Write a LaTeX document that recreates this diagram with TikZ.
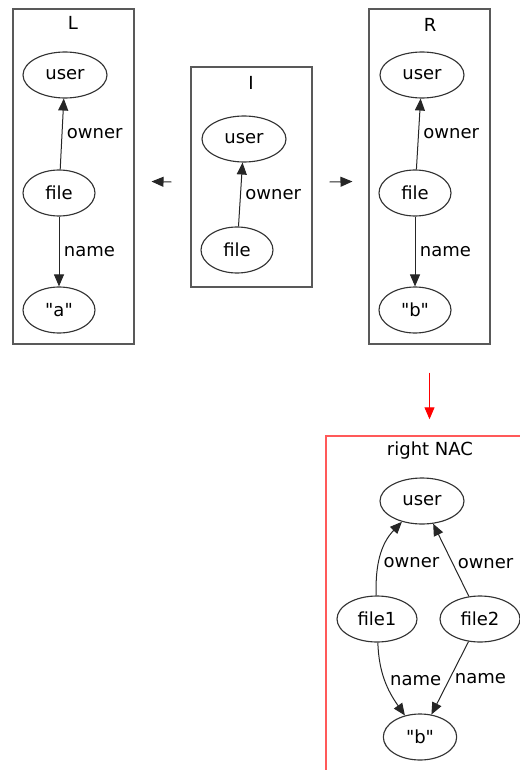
\documentclass[tikz,border=0pt]{standalone}
\usepackage{fontspec}
\setmainfont{DejaVu Sans}[Ligatures=TeXOff]
\usetikzlibrary{shapes.geometric,arrows.meta}

\begin{document}
\begin{tikzpicture}[x=0.75pt,y=-0.75pt, font=\fontsize{13.5}{16}\selectfont,
    >={Triangle[length=9pt,width=7.5pt]},
    obj/.style={ellipse, draw=black!80, line width=0.85pt, inner sep=0pt,
      minimum height=34.5pt, minimum width=54pt},
    cluster/.style={rectangle, draw=black!65, line width=0.8pt,
      minimum width=90.75pt},
    link/.style={->, line width=0.75pt, draw=black!85}]
    \clip (0,0) rectangle (520,770);
    % the three rule graphs
    \node[cluster, minimum height=251.25pt] (L) at (73.5,176.5) {};
    \node[cluster, minimum height=165pt] (I) at (251.5,177) {};
    \node[cluster, minimum height=251.25pt] (R) at (429.5,176.5) {};
    \node (Lname) at (73,23) {L};
    \node (Iname) at (251,83) {I};
    \node (Rname) at (430,25) {R};
    % L
    \node[obj, minimum width=63pt] (Luser) at (65,75) {user};
    \node[obj] (Lfile) at (59,193) {file};
    \node[obj] (La) at (59,310) {"a"};
    \draw[link] (Lfile) -- node[right, midway] {owner} (Luser);
    \draw[link] (Lfile) -- node[right, midway] {name} (La);
    % I
    \node[obj, minimum width=63pt] (Iuser) at (244,139) {user};
    \node[obj] (Ifile) at (237,250) {file};
    \draw[link] (Ifile) -- node[right, midway] {owner} (Iuser);
    % R
    \node[obj, minimum width=63pt] (Ruser) at (422,75) {user};
    \node[obj] (Rfile) at (415,193) {file};
    \node[obj] (Rb) at (415,310) {"b"};
    \draw[link] (Rfile) -- node[right, midway] {owner} (Ruser);
    \draw[link] (Rfile) -- node[right, midway] {name} (Rb);
    % morphisms between the boxes
    \draw[link] ([shift={(-19,5)}]I.west) -- ([shift={(17,5)}]L.east);
    \draw[link] ([shift={(17,5)}]I.east) -- ([shift={(-16,5)}]R.west);
    % negative application condition
    \node[rectangle, draw=red!65, line width=1.1pt, minimum width=175.5pt,
      minimum height=273pt] (nac) at (443,618) {};
    \node (nacname) at (430,451) {right NAC};
    \coordinate (nactop) at (R.south |- nac.north);
    \draw[->, red, line width=0.75pt] ([shift={(0,28)}]R.south) -- ([shift={(0,-16)}]nactop);
    \node[obj, minimum width=63pt] (Nuser) at (422,501) {user};
    \node[obj, minimum width=60pt] (Nfile1) at (377,619) {file1};
    \node[obj, minimum width=60pt] (Nfile2) at (480,619) {file2};
    \node[obj, minimum width=55pt] (Nb) at (420,737) {"b"};
    \draw[link] (Nfile1) to[out=92,in=-134] node[right, pos=0.4] {owner} (Nuser);
    \draw[link] (Nfile2) -- node[right, pos=0.45] {owner} (Nuser);
    \draw[link] (Nfile1) to[out=-88,in=125] node[right, midway] {name} (Nb);
    \draw[link] (Nfile2) -- node[right, midway] {name} (Nb);
\end{tikzpicture}
\end{document}
